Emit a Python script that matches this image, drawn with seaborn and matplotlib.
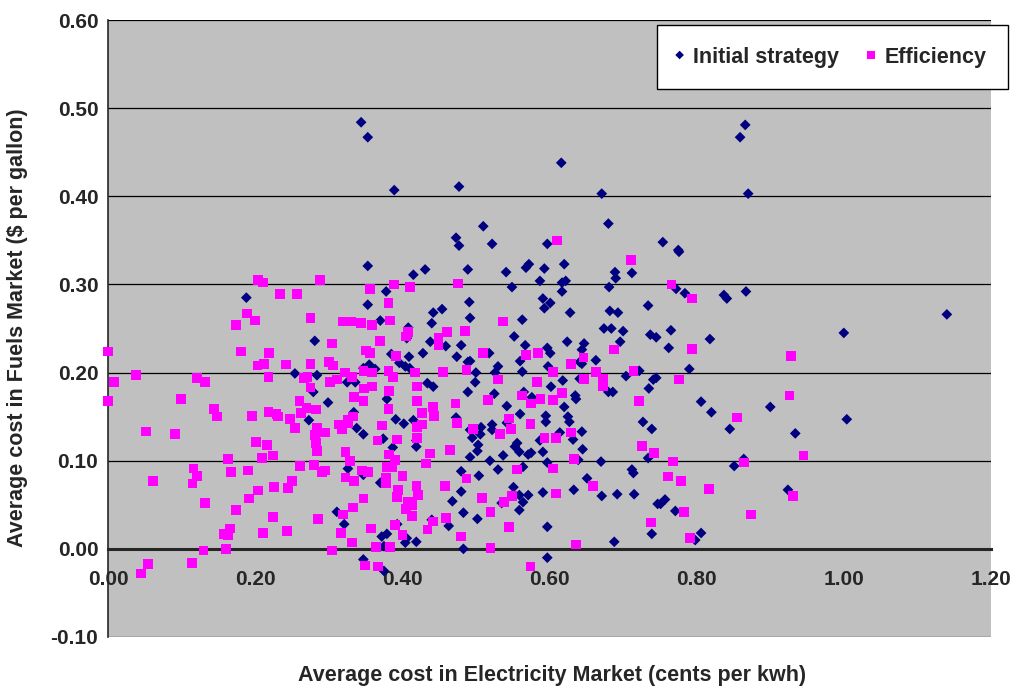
import matplotlib
matplotlib.use('Agg')
from matplotlib import pyplot as plt
import pandas as pd
import seaborn as sns

# Initial strategy (navy diamonds)
init_x = [0.344, 0.353, 0.389, 0.477, 0.616, 0.671, 0.866, 0.859, 0.870, 0.510,
          0.473, 0.477, 0.522, 0.597, 0.680, 0.754, 0.775, 1.000, 1.140, 0.772,
          0.784, 0.837, 0.841, 0.867, 0.765, 0.818, 0.762, 0.790, 0.806, 0.820,
          0.900, 1.004, 0.845, 0.934, 0.864, 0.851, 0.757, 0.751, 0.771, 0.924,
          0.806, 0.798, 0.353, 0.188, 0.353, 0.378, 0.370, 0.281, 0.385, 0.396,
          0.254, 0.284, 0.347, 0.355, 0.363, 0.325, 0.336, 0.279, 0.299, 0.379,
          0.334, 0.273, 0.391, 0.338, 0.347, 0.374, 0.387, 0.326, 0.347, 0.370,
          0.311, 0.321, 0.372, 0.379, 0.375, 0.347, 0.419, 0.419, 0.393, 0.406,
          0.404, 0.419, 0.480, 0.480, 0.468, 0.483, 0.463, 0.483, 0.440, 0.442,
          0.440, 0.408, 0.406, 0.438, 0.459, 0.480, 0.409, 0.428, 0.474, 0.489,
          0.434, 0.442, 0.489, 0.415, 0.402, 0.473, 0.492, 0.492, 0.563, 0.628,
          0.682, 0.693, 0.552, 0.674, 0.684, 0.700, 0.737, 0.745, 0.567, 0.624,
          0.647, 0.696, 0.518, 0.597, 0.601, 0.644, 0.492, 0.530, 0.560, 0.641,
          0.644, 0.663, 0.598, 0.500, 0.526, 0.563, 0.722, 0.499, 0.618, 0.641,
          0.704, 0.741, 0.745, 0.525, 0.565, 0.576, 0.602, 0.635, 0.636, 0.680,
          0.686, 0.735, 0.542, 0.620, 0.560, 0.595, 0.595, 0.625, 0.627, 0.727,
          0.739, 0.507, 0.522, 0.522, 0.542, 0.614, 0.644, 0.495, 0.506, 0.503,
          0.502, 0.492, 0.519, 0.537, 0.553, 0.556, 0.559, 0.571, 0.575, 0.587,
          0.591, 0.632, 0.645, 0.597, 0.564, 0.639, 0.670, 0.712, 0.714, 0.734,
          0.504, 0.530, 0.651, 0.551, 0.633, 0.559, 0.571, 0.591, 0.671, 0.692,
          0.715, 0.564, 0.535, 0.559, 0.502, 0.747, 0.597, 0.739, 0.688, 0.597,
          0.431, 0.415, 0.489, 0.541, 0.568, 0.572, 0.593, 0.620, 0.689, 0.690,
          0.712, 0.549, 0.587, 0.617, 0.622, 0.617, 0.681, 0.491, 0.454, 0.591,
          0.601, 0.593, 0.734, 0.776, 0.404, 0.410, 0.375]
init_y = [0.484, 0.467, 0.407, 0.411, 0.438, 0.403, 0.481, 0.467, 0.403, 0.366,
          0.353, 0.344, 0.346, 0.346, 0.369, 0.348, 0.339, 0.245, 0.266, 0.295,
          0.290, 0.288, 0.284, 0.292, 0.248, 0.238, 0.228, 0.204, 0.167, 0.155,
          0.161, 0.147, 0.136, 0.131, 0.102, 0.094, 0.056, 0.051, 0.043, 0.067,
          0.018, 0.010, 0.321, 0.285, 0.277, 0.292, 0.259, 0.236, 0.221, 0.211,
          0.199, 0.197, 0.205, 0.209, 0.204, 0.189, 0.189, 0.178, 0.166, 0.170,
          0.155, 0.146, 0.147, 0.137, 0.130, 0.125, 0.115, 0.091, 0.084, 0.075,
          0.042, 0.028, 0.014, 0.017, 0.003, -0.012, 0.123, 0.116, 0.028, 0.012,
          0.007, 0.008, 0.088, 0.065, 0.054, 0.041, 0.026, 0.000, 0.033, 0.268,
          0.256, 0.251, 0.239, 0.235, 0.230, 0.231, 0.218, 0.222, 0.218, 0.212,
          0.188, 0.184, 0.178, 0.146, 0.142, 0.149, 0.135, 0.262, 0.260, 0.268,
          0.270, 0.268, 0.241, 0.250, 0.250, 0.247, 0.243, 0.240, 0.231, 0.235,
          0.233, 0.235, 0.222, 0.228, 0.222, 0.226, 0.213, 0.207, 0.213, 0.212,
          0.210, 0.214, 0.207, 0.200, 0.200, 0.201, 0.202, 0.189, 0.191, 0.193,
          0.196, 0.192, 0.194, 0.176, 0.178, 0.172, 0.184, 0.174, 0.170, 0.178,
          0.178, 0.182, 0.162, 0.161, 0.153, 0.151, 0.144, 0.150, 0.144, 0.144,
          0.136, 0.138, 0.141, 0.135, 0.143, 0.132, 0.133, 0.126, 0.130, 0.118,
          0.111, 0.104, 0.100, 0.106, 0.116, 0.120, 0.110, 0.107, 0.109, 0.123,
          0.110, 0.124, 0.113, 0.098, 0.093, 0.101, 0.099, 0.090, 0.086, 0.103,
          0.083, 0.090, 0.080, 0.070, 0.067, 0.061, 0.061, 0.064, 0.060, 0.062,
          0.062, 0.053, 0.052, 0.044, 0.034, 0.051, 0.025, 0.017, 0.008, -0.010,
          0.317, 0.311, 0.317, 0.314, 0.319, 0.323, 0.318, 0.323, 0.314, 0.307,
          0.313, 0.297, 0.304, 0.302, 0.304, 0.292, 0.297, 0.280, 0.272, 0.284,
          0.279, 0.273, 0.276, 0.337, 0.207, 0.205, -0.025]

# Efficiency (magenta squares)
eff_x = [0.204, 0.211, 0.288, 0.234, 0.257, 0.356, 0.389, 0.381, 0.189, 0.200,
         0.174, 0.275, 0.319, 0.330, 0.344, 0.359, 0.383, 0.370, 0.304, 0.000,
         0.181, 0.219, 0.351, 0.356, 0.391, 0.203, 0.212, 0.242, 0.275, 0.300,
         0.306, 0.038, 0.008, 0.121, 0.132, 0.218, 0.266, 0.271, 0.275, 0.302,
         0.311, 0.322, 0.332, 0.347, 0.359, 0.381, 0.387, 0.348, 0.359, 0.382,
         0.000, 0.099, 0.334, 0.347, 0.260, 0.270, 0.262, 0.283, 0.144, 0.148,
         0.196, 0.218, 0.229, 0.231, 0.247, 0.381, 0.326, 0.333, 0.052, 0.091,
         0.061, 0.116, 0.121, 0.115, 0.132, 0.130, 0.114, 0.054, 0.045, 0.163,
         0.167, 0.190, 0.201, 0.216, 0.209, 0.224, 0.204, 0.192, 0.174, 0.226,
         0.250, 0.245, 0.224, 0.166, 0.158, 0.163, 0.211, 0.243, 0.160, 0.261,
         0.254, 0.284, 0.281, 0.295, 0.283, 0.284, 0.280, 0.291, 0.295, 0.285,
         0.304, 0.314, 0.318, 0.326, 0.323, 0.329, 0.323, 0.334, 0.345, 0.353,
         0.347, 0.333, 0.319, 0.317, 0.332, 0.357, 0.364, 0.349, 0.367, 0.372,
         0.366, 0.382, 0.390, 0.379, 0.386, 0.378, 0.378, 0.400, 0.393, 0.390,
         0.383, 0.393, 0.394, 0.408, 0.413, 0.405, 0.413, 0.419, 0.421, 0.400,
         0.458, 0.465, 0.432, 0.438, 0.434, 0.442, 0.459, 0.480, 0.487, 0.408,
         0.405, 0.449, 0.461, 0.449, 0.485, 0.417, 0.455, 0.487, 0.420, 0.420,
         0.472, 0.427, 0.442, 0.443, 0.420, 0.427, 0.474, 0.420, 0.537, 0.510,
         0.568, 0.584, 0.646, 0.688, 0.629, 0.605, 0.663, 0.714, 0.530, 0.583,
         0.647, 0.673, 0.673, 0.617, 0.516, 0.563, 0.575, 0.588, 0.605, 0.722,
         0.545, 0.574, 0.496, 0.548, 0.533, 0.629, 0.593, 0.609, 0.726, 0.742,
         0.633, 0.556, 0.605, 0.659, 0.609, 0.508, 0.538, 0.549, 0.520, 0.545,
         0.738, 0.520, 0.636, 0.574, 0.711, 0.410, 0.476, 0.610, 0.766, 0.794,
         0.794, 0.928, 0.776, 0.926, 0.855, 0.945, 0.768, 0.864, 0.761, 0.779,
         0.817, 0.931, 0.783, 0.874, 0.791]
eff_y = [0.305, 0.302, 0.305, 0.289, 0.289, 0.295, 0.300, 0.279, 0.267, 0.259,
         0.254, 0.262, 0.258, 0.258, 0.256, 0.254, 0.259, 0.236, 0.233, 0.224,
         0.224, 0.222, 0.225, 0.222, 0.219, 0.208, 0.210, 0.209, 0.210, 0.212,
         0.208, 0.197, 0.189, 0.194, 0.189, 0.195, 0.194, 0.195, 0.183, 0.189,
         0.192, 0.200, 0.195, 0.202, 0.200, 0.202, 0.195, 0.182, 0.184, 0.179,
         0.168, 0.170, 0.172, 0.168, 0.168, 0.160, 0.154, 0.158, 0.159, 0.150,
         0.151, 0.155, 0.153, 0.150, 0.147, 0.159, 0.146, 0.150, 0.133, 0.130,
         0.077, 0.091, 0.083, 0.074, 0.052, -0.002, -0.016, -0.017, -0.028, 0.102,
         0.087, 0.089, 0.121, 0.118, 0.103, 0.106, 0.066, 0.057, 0.044, 0.070,
         0.077, 0.069, 0.036, 0.023, 0.017, 0.015, 0.018, 0.020, 0.000, 0.094,
         0.137, 0.137, 0.129, 0.132, 0.120, 0.111, 0.095, 0.087, 0.089, 0.034,
         -0.002, 0.141, 0.136, 0.143, 0.110, 0.100, 0.081, 0.077, 0.089, 0.087,
         0.057, 0.047, 0.039, 0.018, 0.007, 0.023, 0.002, -0.019, -0.020, 0.140,
         0.123, 0.107, 0.101, 0.093, 0.093, 0.081, 0.075, 0.083, 0.059, 0.027,
         0.002, 0.124, 0.067, 0.053, 0.050, 0.045, 0.037, 0.071, 0.061, 0.016,
         0.071, 0.112, 0.097, 0.108, 0.022, 0.031, 0.035, 0.014, 0.080, 0.246,
         0.241, 0.239, 0.246, 0.231, 0.247, 0.200, 0.201, 0.203, 0.184, 0.168,
         0.165, 0.154, 0.161, 0.151, 0.138, 0.141, 0.143, 0.126, 0.258, 0.222,
         0.220, 0.222, 0.217, 0.226, 0.210, 0.201, 0.201, 0.202, 0.192, 0.189,
         0.193, 0.193, 0.184, 0.177, 0.169, 0.174, 0.165, 0.170, 0.169, 0.168,
         0.148, 0.142, 0.136, 0.136, 0.130, 0.132, 0.126, 0.126, 0.117, 0.109,
         0.102, 0.090, 0.091, 0.071, 0.063, 0.058, 0.053, 0.060, 0.042, 0.025,
         0.030, 0.001, 0.005, -0.020, 0.328, 0.297, 0.301, 0.350, 0.300, 0.284,
         0.227, 0.219, 0.192, 0.174, 0.149, 0.106, 0.099, 0.098, 0.082, 0.077,
         0.068, 0.060, 0.042, 0.039, 0.012]

x_ticks = [0.0, 0.2, 0.4, 0.6, 0.8, 1.0, 1.2]
y_ticks = [-0.1, 0.0, 0.1, 0.2, 0.3, 0.4, 0.5, 0.6]

df_init = pd.DataFrame({'elec': init_x, 'fuel': init_y})
df_eff = pd.DataFrame({'elec': eff_x, 'fuel': eff_y})

sns.set_style('white')
plt.rcParams['font.family'] = ['Liberation Sans', 'DejaVu Sans']
plt.rcParams['font.weight'] = 'bold'

fig = plt.figure(figsize=(10.21, 6.87), dpi=100)
ax = fig.add_axes([108 / 1021, 1 - 637 / 687, (991 - 108) / 1021, (637 - 20) / 687])
ax.set_facecolor('#C0C0C0')

# horizontal gridlines
for v in y_ticks:
    if v != 0.0:
        ax.axhline(v, color='black', lw=0.9, zorder=1)

sns.scatterplot(data=df_init, x='elec', y='fuel', marker='D', s=30, color='#000080',
                edgecolor='none', linewidth=0, label='Initial strategy', ax=ax,
                zorder=3, clip_on=False)
sns.scatterplot(data=df_eff, x='elec', y='fuel', marker='s', s=48, color='#FF00FF',
                edgecolor='none', linewidth=0, label='Efficiency', ax=ax,
                zorder=4, clip_on=False)

# axis line through zero (set before tick labels, it resets the ticks)
ax.spines['bottom'].set_position(('data', 0))
ax.spines['bottom'].set_linewidth(2.2)
ax.spines['bottom'].set_zorder(2)
ax.spines['left'].set_linewidth(1.2)
ax.spines['top'].set_visible(False)
ax.spines['right'].set_visible(False)

ax.set_xlim(0, 1.2)
ax.set_ylim(-0.1, 0.6)
ax.set_xticks(x_ticks)
ax.set_yticks(y_ticks)
ax.set_xticklabels([f'{v:.2f}' for v in x_ticks], fontsize=15, fontweight='bold')
ax.set_yticklabels([f'{v:.2f}' for v in y_ticks], fontsize=15, fontweight='bold')
ax.tick_params(axis='x', direction='out', length=6, width=2, pad=9, color='black')
ax.tick_params(axis='y', direction='out', length=5, width=1.2, pad=2, color='black')

ax.set_xlabel('')
ax.set_ylabel('')
fig.text(552 / 1021, 1 - 675 / 687, 'Average cost in Electricity Market (cents per kwh)',
         ha='center', va='center', fontsize=15.5, fontweight='bold')
fig.text(18 / 1021, 1 - 328 / 687, 'Average cost in Fuels Market ($ per gallon)',
         ha='center', va='center', rotation=90, fontsize=15.5, fontweight='bold')

leg = ax.legend(loc='upper left', bbox_to_anchor=(657 / 1021, 1 - 25 / 687),
                bbox_transform=fig.transFigure, ncol=2, frameon=True, fancybox=False,
                edgecolor='black', facecolor='white', framealpha=1,
                prop={'size': 15.5, 'weight': 'bold'}, borderpad=1.0,
                borderaxespad=0, columnspacing=1.45, handletextpad=0.57,
                handlelength=0.1, scatteryoffsets=[0.5], markerscale=0.8)
leg.get_frame().set_linewidth(1.0)
leg.set_zorder(10)

fig.savefig('out.png', dpi=100, facecolor='white')
